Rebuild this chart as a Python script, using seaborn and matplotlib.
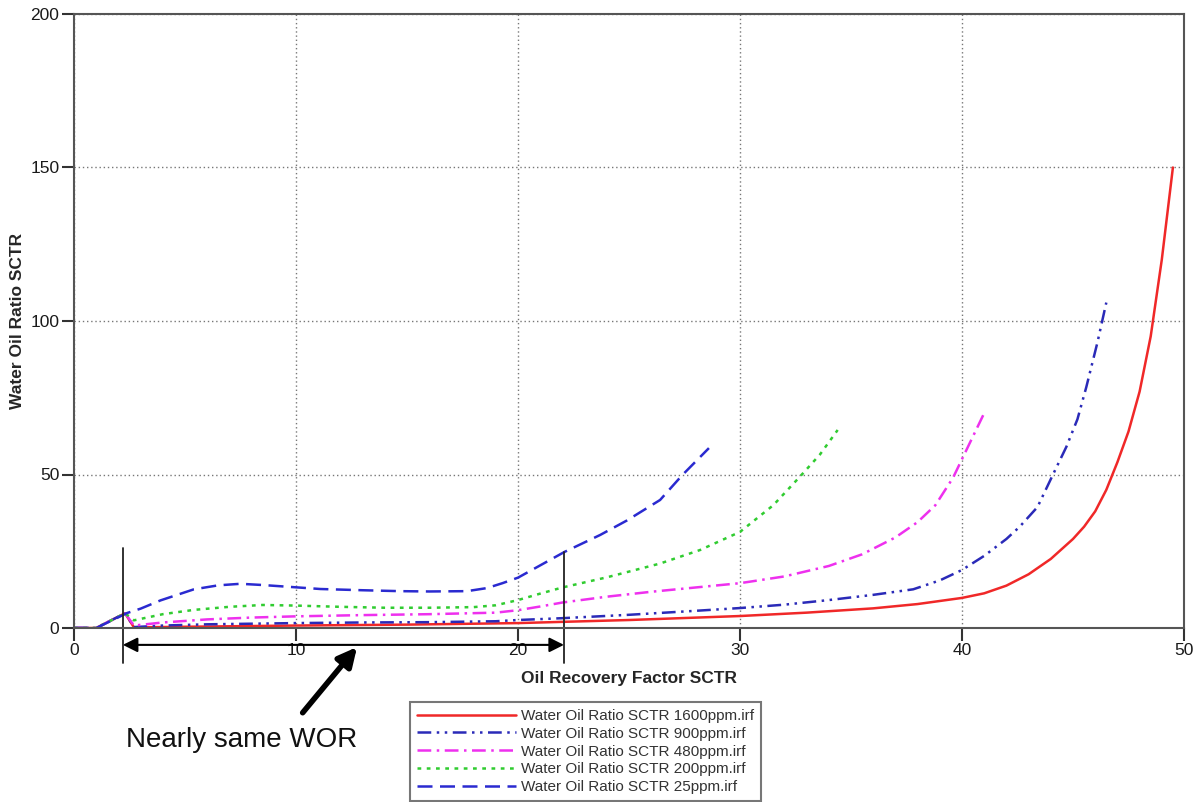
import matplotlib
matplotlib.use("Agg")
import matplotlib.pyplot as plt
import seaborn as sns
import pandas as pd

# Oil recovery factor (x) and water-oil ratio (y) for each polymer concentration
rf_1600 = [0, 1.0, 2.3, 2.7, 5, 10, 15, 20, 25, 30, 33, 36, 38, 40, 41, 42, 43, 44,
           45, 45.5, 46, 46.5, 47, 47.5, 48, 48.5, 49, 49.5]
wor_1600 = [0, 0, 4.8, 0.2, 0.4, 0.8, 1.1, 1.6, 2.6, 3.9, 5.0, 6.4, 7.8, 9.8, 11.3, 13.8, 17.5, 22.5,
            29, 33, 38, 45, 54, 64, 77, 95, 120, 150]

rf_900 = [0, 1, 2.3, 2.7, 4, 6, 8, 10, 13, 16, 19, 20, 22, 25, 28, 30, 32, 34, 36, 37.8,
          39, 40, 41, 42, 42.6, 43.4, 44.1, 44.7, 45.2, 45.6, 46.1, 46.5]
wor_900 = [0, 0, 4.8, 0.3, 0.8, 1.2, 1.4, 1.6, 1.8, 1.9, 2.2, 2.6, 3.2, 4.3, 5.6, 6.5, 7.6, 9.1, 10.8, 12.6,
           15.5, 18.9, 23.5, 29, 33, 39.4, 50, 59, 68, 78.5, 93, 106]

rf_480 = [0, 1, 2.3, 2.7, 4, 6, 8, 10, 13, 16, 19, 20, 21, 22, 24, 26, 28, 30, 32, 34,
          35.5, 37, 38, 38.8, 39.6, 40.2, 40.6, 41.0]
wor_480 = [0, 0, 4.8, 0.8, 1.8, 2.8, 3.4, 3.8, 4.2, 4.5, 5.0, 5.8, 7.0, 8.3, 10.2, 11.8, 13.2, 14.6, 16.8, 20.2,
           24, 29.5, 34.5, 40, 49, 58, 64, 70]

rf_200 = [0, 1, 2.3, 2.7, 4, 5.4, 7, 8.5, 10, 12, 14, 16, 18, 19, 20, 21, 22, 24, 26.4,
          28.2, 30, 31.5, 32.7, 33.6, 34.4]
wor_200 = [0, 0, 4.8, 2.5, 4.5, 5.9, 6.9, 7.5, 7.3, 6.9, 6.6, 6.6, 6.8, 7.4, 9.1, 11.2, 13.2, 16.5, 21,
           25.4, 31.3, 40, 49.3, 56.5, 64.5]

rf_25 = [0, 1, 2.4, 3.0, 3.9, 5.4, 6.5, 7.5, 8.5, 9.9, 11.1, 13, 14.7, 16, 17.7, 18.6, 19.3,
         20, 21, 22.1, 23.7, 24.9, 26.4, 27.4, 28.6]
wor_25 = [0, 0, 4.9, 6.3, 9.0, 12.6, 13.9, 14.4, 14.0, 13.3, 12.7, 12.3, 12.0, 11.9, 12.0, 13.0, 14.6,
          16.4, 20.4, 24.8, 30.3, 35, 41.7, 49.8, 58.6]

labels = ["Water Oil Ratio SCTR 1600ppm.irf",
          "Water Oil Ratio SCTR 900ppm.irf",
          "Water Oil Ratio SCTR 480ppm.irf",
          "Water Oil Ratio SCTR 200ppm.irf",
          "Water Oil Ratio SCTR 25ppm.irf"]
xs = [rf_1600, rf_900, rf_480, rf_200, rf_25]
ys = [wor_1600, wor_900, wor_480, wor_200, wor_25]

x_ticks = [0, 10, 20, 30, 40, 50]
y_ticks = [0, 50, 100, 150, 200]

colors = ["#f02828", "#2a2ab8", "#ee30ee", "#30cc30", "#2a2ad0"]
dash_patterns = [None, (5.5, 2.2, 1, 2.2, 1, 2.2), (5.5, 2.2, 1, 2.2), (1.5, 2.2), (6, 3)]

sns.set_style("white")
plt.rcParams["font.family"] = ["Liberation Sans", "DejaVu Sans"]

fig = plt.figure(figsize=(11.99, 8.02), dpi=100)
ax = fig.add_axes([74 / 1199, 1 - 628 / 802, (1184 - 74) / 1199, (628 - 14) / 802])

for x, y, lab, col, dp in zip(xs, ys, labels, colors, dash_patterns):
    df = pd.DataFrame({"rf": x, "wor": y})
    sns.lineplot(data=df, x="rf", y="wor", sort=False, estimator=None, color=col,
                 linewidth=1.8, label=lab, ax=ax, legend=False)
    if dp is not None:
        ax.lines[-1].set_dashes(dp)

ax.set_xlim(0, 50)
ax.set_ylim(0, 200)
ax.set_xticks(x_ticks)
ax.set_yticks(y_ticks)
ax.tick_params(axis="both", which="major", bottom=True, left=True, direction="out",
               length=9, width=1.5, color="#333333",
               labelsize=12.5, labelcolor="#1a1a1a", pad=1.5)
ax.grid(True, color="#777777", linestyle=(0, (1, 2)), linewidth=1.0)
for s in ax.spines.values():
    s.set_color("#555555")
    s.set_linewidth(1.5)
ax.set_axisbelow(True)

ax.set_xlabel("Oil Recovery Factor SCTR", fontsize=12.5, fontweight="bold", labelpad=10)
ax.set_ylabel("Water Oil Ratio SCTR", fontsize=12.5, fontweight="bold", labelpad=4)

# Bracket marking the range where the curves nearly coincide
for xv, ytop in [(2.2, 26.0), (22.07, 24.8)]:
    ax.plot([xv, xv], [ytop, -11.5], color="#222222", linewidth=1.3, clip_on=False)
ax.annotate("", xy=(2.2, -5.5), xytext=(22.07, -5.5),
            arrowprops=dict(arrowstyle="<|-|>", color="black", lw=1.5, mutation_scale=22,
                            shrinkA=0, shrinkB=0),
            annotation_clip=False)
ax.annotate("", xy=(12.75, -6.2), xytext=(10.3, -27.6),
            arrowprops=dict(arrowstyle="-|>", color="black", lw=4, mutation_scale=28,
                            shrinkA=0, shrinkB=0),
            annotation_clip=False)
ax.text(7.55, -36.5, "Nearly same WOR", fontsize=20, ha="center", va="center",
        color="#111111", clip_on=False)

handles = ax.lines[:5]
leg = fig.legend(handles, labels, loc="upper left",
                 bbox_to_anchor=(410 / 1199, 1 - 702 / 802), bbox_transform=fig.transFigure,
                 borderaxespad=0, fontsize=11, frameon=True, fancybox=False,
                 handlelength=6.5, labelspacing=0.25, handletextpad=0.3,
                 borderpad=0.45, edgecolor="#555555")
leg.get_frame().set_linewidth(1.5)
for t in leg.get_texts():
    t.set_color("#333333")

fig.savefig("out.png", dpi=100)
